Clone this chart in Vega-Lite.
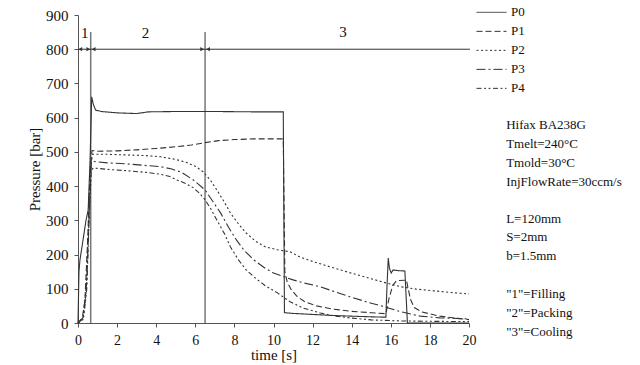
{
  "$schema": "https://vega.github.io/schema/vega-lite/v6.json",
  "autosize": "none",
  "padding": {"left": 78, "top": 15, "right": 171, "bottom": 42},
  "width": 391,
  "height": 308,
  "background": "white",
  "config": {
    "view": {"stroke": null},
    "font": "Liberation Serif",
    "axis": {"grid": false, "domainColor": "#555", "tickColor": "#555", "labelColor": "#111", "titleColor": "#111", "labelFont": "Liberation Serif", "titleFont": "Liberation Serif", "labelFontSize": 14, "titleFontSize": 15, "titleFontWeight": "normal"}
  },
  "datasets": {
    "series": [
      {"s": "P0", "t": 0, "p": 0}, {"s": "P0", "t": 0.05, "p": 150}, {"s": "P0", "t": 0.1, "p": 184}, {"s": "P0", "t": 0.25, "p": 240}, {"s": "P0", "t": 0.41, "p": 300}, {"s": "P0", "t": 0.52, "p": 330}, {"s": "P0", "t": 0.62, "p": 480}, {"s": "P0", "t": 0.7, "p": 661}, {"s": "P0", "t": 0.78, "p": 640}, {"s": "P0", "t": 0.9, "p": 622}, {"s": "P0", "t": 1.2, "p": 618}, {"s": "P0", "t": 2, "p": 614}, {"s": "P0", "t": 3, "p": 612}, {"s": "P0", "t": 3.6, "p": 617}, {"s": "P0", "t": 5, "p": 618}, {"s": "P0", "t": 7, "p": 618}, {"s": "P0", "t": 9, "p": 617}, {"s": "P0", "t": 10.5, "p": 617}, {"s": "P0", "t": 10.56, "p": 30}, {"s": "P0", "t": 11, "p": 28}, {"s": "P0", "t": 12, "p": 25}, {"s": "P0", "t": 13, "p": 22}, {"s": "P0", "t": 14, "p": 20}, {"s": "P0", "t": 15, "p": 18}, {"s": "P0", "t": 15.75, "p": 17}, {"s": "P0", "t": 15.8, "p": 100}, {"s": "P0", "t": 15.87, "p": 190}, {"s": "P0", "t": 15.93, "p": 160}, {"s": "P0", "t": 16.02, "p": 146}, {"s": "P0", "t": 16.12, "p": 155}, {"s": "P0", "t": 16.4, "p": 153}, {"s": "P0", "t": 16.72, "p": 152}, {"s": "P0", "t": 16.85, "p": 0}, {"s": "P0", "t": 20, "p": 0},
      {"s": "P1", "t": 0, "p": 0}, {"s": "P1", "t": 0.2, "p": 10}, {"s": "P1", "t": 0.35, "p": 60}, {"s": "P1", "t": 0.5, "p": 250}, {"s": "P1", "t": 0.62, "p": 440}, {"s": "P1", "t": 0.72, "p": 504}, {"s": "P1", "t": 1, "p": 502}, {"s": "P1", "t": 2, "p": 503}, {"s": "P1", "t": 3, "p": 506}, {"s": "P1", "t": 4, "p": 510}, {"s": "P1", "t": 5, "p": 515}, {"s": "P1", "t": 5.8, "p": 520}, {"s": "P1", "t": 6.5, "p": 527}, {"s": "P1", "t": 7.2, "p": 533}, {"s": "P1", "t": 8, "p": 536}, {"s": "P1", "t": 9, "p": 538}, {"s": "P1", "t": 10.5, "p": 538}, {"s": "P1", "t": 10.58, "p": 150}, {"s": "P1", "t": 10.7, "p": 120}, {"s": "P1", "t": 10.9, "p": 98}, {"s": "P1", "t": 11.2, "p": 78}, {"s": "P1", "t": 11.6, "p": 62}, {"s": "P1", "t": 12.2, "p": 50}, {"s": "P1", "t": 13, "p": 41}, {"s": "P1", "t": 14, "p": 34}, {"s": "P1", "t": 15, "p": 30}, {"s": "P1", "t": 15.75, "p": 27}, {"s": "P1", "t": 15.9, "p": 70}, {"s": "P1", "t": 16.1, "p": 110}, {"s": "P1", "t": 16.3, "p": 124}, {"s": "P1", "t": 16.8, "p": 125}, {"s": "P1", "t": 17.0, "p": 70}, {"s": "P1", "t": 17.2, "p": 45}, {"s": "P1", "t": 17.6, "p": 32}, {"s": "P1", "t": 18.5, "p": 20}, {"s": "P1", "t": 19.3, "p": 14}, {"s": "P1", "t": 20, "p": 10},
      {"s": "P2", "t": 0, "p": 0}, {"s": "P2", "t": 0.25, "p": 10}, {"s": "P2", "t": 0.4, "p": 80}, {"s": "P2", "t": 0.55, "p": 300}, {"s": "P2", "t": 0.65, "p": 460}, {"s": "P2", "t": 0.75, "p": 493}, {"s": "P2", "t": 1.5, "p": 493}, {"s": "P2", "t": 2.5, "p": 491}, {"s": "P2", "t": 3.5, "p": 489}, {"s": "P2", "t": 4.2, "p": 486}, {"s": "P2", "t": 5, "p": 478}, {"s": "P2", "t": 5.6, "p": 468}, {"s": "P2", "t": 6, "p": 458}, {"s": "P2", "t": 6.4, "p": 442}, {"s": "P2", "t": 6.8, "p": 415}, {"s": "P2", "t": 7.1, "p": 389}, {"s": "P2", "t": 7.5, "p": 352}, {"s": "P2", "t": 7.8, "p": 321}, {"s": "P2", "t": 8.2, "p": 290}, {"s": "P2", "t": 8.6, "p": 263}, {"s": "P2", "t": 9.1, "p": 238}, {"s": "P2", "t": 9.6, "p": 222}, {"s": "P2", "t": 10.2, "p": 214}, {"s": "P2", "t": 10.85, "p": 208}, {"s": "P2", "t": 11.35, "p": 193}, {"s": "P2", "t": 12.1, "p": 178}, {"s": "P2", "t": 12.9, "p": 164}, {"s": "P2", "t": 13.9, "p": 147}, {"s": "P2", "t": 14.9, "p": 131}, {"s": "P2", "t": 15.7, "p": 118}, {"s": "P2", "t": 16.5, "p": 106}, {"s": "P2", "t": 17.3, "p": 99}, {"s": "P2", "t": 18.2, "p": 94}, {"s": "P2", "t": 19.1, "p": 89}, {"s": "P2", "t": 20, "p": 85},
      {"s": "P3", "t": 0, "p": 0}, {"s": "P3", "t": 0.25, "p": 15}, {"s": "P3", "t": 0.45, "p": 120}, {"s": "P3", "t": 0.58, "p": 330}, {"s": "P3", "t": 0.68, "p": 465}, {"s": "P3", "t": 0.78, "p": 472}, {"s": "P3", "t": 1.5, "p": 468}, {"s": "P3", "t": 2.5, "p": 465}, {"s": "P3", "t": 3.5, "p": 460}, {"s": "P3", "t": 4.2, "p": 457}, {"s": "P3", "t": 4.8, "p": 450}, {"s": "P3", "t": 5.3, "p": 440}, {"s": "P3", "t": 5.9, "p": 418}, {"s": "P3", "t": 6.5, "p": 389}, {"s": "P3", "t": 6.9, "p": 355}, {"s": "P3", "t": 7.3, "p": 321}, {"s": "P3", "t": 7.7, "p": 280}, {"s": "P3", "t": 8.1, "p": 243}, {"s": "P3", "t": 8.5, "p": 212}, {"s": "P3", "t": 9, "p": 184}, {"s": "P3", "t": 9.5, "p": 163}, {"s": "P3", "t": 10, "p": 146}, {"s": "P3", "t": 10.5, "p": 136}, {"s": "P3", "t": 11, "p": 126}, {"s": "P3", "t": 11.7, "p": 115}, {"s": "P3", "t": 12.4, "p": 106}, {"s": "P3", "t": 13.1, "p": 92}, {"s": "P3", "t": 13.9, "p": 77}, {"s": "P3", "t": 14.8, "p": 61}, {"s": "P3", "t": 15.7, "p": 47}, {"s": "P3", "t": 16.5, "p": 33}, {"s": "P3", "t": 17.5, "p": 20}, {"s": "P3", "t": 18.5, "p": 15}, {"s": "P3", "t": 20, "p": 12},
      {"s": "P4", "t": 0, "p": 0}, {"s": "P4", "t": 0.3, "p": 20}, {"s": "P4", "t": 0.45, "p": 100}, {"s": "P4", "t": 0.58, "p": 320}, {"s": "P4", "t": 0.68, "p": 445}, {"s": "P4", "t": 0.78, "p": 453}, {"s": "P4", "t": 1.5, "p": 449}, {"s": "P4", "t": 2.5, "p": 445}, {"s": "P4", "t": 3.5, "p": 440}, {"s": "P4", "t": 4.2, "p": 435}, {"s": "P4", "t": 4.7, "p": 428}, {"s": "P4", "t": 5.05, "p": 418}, {"s": "P4", "t": 5.5, "p": 408}, {"s": "P4", "t": 5.9, "p": 395}, {"s": "P4", "t": 6.2, "p": 380}, {"s": "P4", "t": 6.5, "p": 360}, {"s": "P4", "t": 6.8, "p": 333}, {"s": "P4", "t": 7.1, "p": 301}, {"s": "P4", "t": 7.5, "p": 260}, {"s": "P4", "t": 7.8, "p": 222}, {"s": "P4", "t": 8.2, "p": 185}, {"s": "P4", "t": 8.6, "p": 155}, {"s": "P4", "t": 9.1, "p": 130}, {"s": "P4", "t": 9.6, "p": 108}, {"s": "P4", "t": 10.2, "p": 88}, {"s": "P4", "t": 10.85, "p": 62}, {"s": "P4", "t": 11.5, "p": 44}, {"s": "P4", "t": 12.4, "p": 29}, {"s": "P4", "t": 13.2, "p": 20}, {"s": "P4", "t": 13.9, "p": 15}, {"s": "P4", "t": 15, "p": 9}, {"s": "P4", "t": 16.5, "p": 6}, {"s": "P4", "t": 18, "p": 5}, {"s": "P4", "t": 20, "p": 4}
    ],
    "phases": [{"t": 0.65, "p": 0, "p2": 850}, {"t": 6.5, "p": 0, "p2": 850}],
    "span": [{"t": 0, "t2": 20.05, "p": 800}],
    "arrows": [
      {"t": 0.12, "p": 800, "dir": "l"}, {"t": 0.53, "p": 800, "dir": "r"},
      {"t": 0.8, "p": 800, "dir": "l"}, {"t": 6.35, "p": 800, "dir": "r"},
      {"t": 6.65, "p": 800, "dir": "l"}
    ],
    "phaseLabels": [{"t": 0.35, "p": 848, "label": "1"}, {"t": 3.45, "p": 848, "label": "2"}, {"t": 13.55, "p": 850, "label": "3"}],
    "notes": [
      {"t": 21.9, "p": 579, "label": "Hifax BA238G"},
      {"t": 21.9, "p": 522, "label": "Tmelt=240°C"},
      {"t": 21.9, "p": 468, "label": "Tmold=30°C"},
      {"t": 21.9, "p": 413, "label": "InjFlowRate=30ccm/s"},
      {"t": 21.9, "p": 304, "label": "L=120mm"},
      {"t": 21.9, "p": 251, "label": "S=2mm"},
      {"t": 21.9, "p": 196, "label": "b=1.5mm"},
      {"t": 21.9, "p": 85, "label": "\"1\"=Filling"},
      {"t": 21.9, "p": 29, "label": "\"2\"=Packing"},
      {"t": 21.9, "p": -26, "label": "\"3\"=Cooling"}
    ]
  },
  "encoding": {
    "x": {"field": "t", "type": "quantitative", "scale": {"domain": [0, 20], "nice": false, "zero": false},
      "axis": {"title": "time [s]", "values": [0, 2, 4, 6, 8, 10, 12, 14, 16, 18, 20], "tickSize": 4, "labelPadding": 6, "titlePadding": 0, "labelFlush": false}},
    "y": {"field": "p", "type": "quantitative", "scale": {"domain": [0, 900], "nice": false, "zero": false},
      "axis": {"title": "Pressure [bar]", "values": [0, 100, 200, 300, 400, 500, 600, 700, 800, 900], "tickSize": 4, "labelPadding": 6, "titlePadding": 3, "labelFontSize": 15, "labelFlush": false}}
  },
  "layer": [
    {
      "data": {"name": "phases"},
      "mark": {"type": "rule", "color": "#777", "strokeWidth": 1.5},
      "encoding": {"y2": {"field": "p2"}}
    },
    {
      "data": {"name": "span"},
      "mark": {"type": "rule", "color": "#333", "strokeWidth": 1},
      "encoding": {"x2": {"field": "t2"}}
    },
    {
      "data": {"name": "arrows"},
      "mark": {"type": "point", "filled": true, "size": 18, "color": "#333", "opacity": 1},
      "encoding": {"shape": {"field": "dir", "type": "nominal", "scale": {"domain": ["l", "r"], "range": ["triangle-left", "triangle-right"]}, "legend": null}}
    },
    {
      "data": {"name": "phaseLabels"},
      "mark": {"type": "text", "font": "Liberation Serif", "fontSize": 15, "color": "#111", "baseline": "middle", "align": "center"},
      "encoding": {"text": {"field": "label"}}
    },
    {
      "data": {"name": "series"},
      "mark": {"type": "line", "color": "#333", "strokeWidth": 1.1, "interpolate": "linear"},
      "encoding": {
        "strokeDash": {"field": "s", "type": "nominal",
          "scale": {"domain": ["P0", "P1", "P2", "P3", "P4"], "range": [[1, 0], [6, 3], [2, 2.5], [9, 3, 2, 3], [5, 2.5, 2, 2.5, 2, 2.5]]},
          "legend": {"orient": "none", "legendX": 398, "legendY": -12, "title": null, "symbolType": "stroke", "symbolSize": 900, "symbolStrokeWidth": 1, "symbolStrokeColor": "#333", "labelFont": "Liberation Serif", "labelFontSize": 13, "labelColor": "#111", "labelOffset": 4, "rowPadding": 0, "clipHeight": 18.7}}
      }
    },
    {
      "data": {"name": "notes"},
      "mark": {"type": "text", "font": "Liberation Serif", "fontSize": 13, "color": "#111", "align": "left", "baseline": "middle"},
      "encoding": {"text": {"field": "label"}}
    }
  ]
}
